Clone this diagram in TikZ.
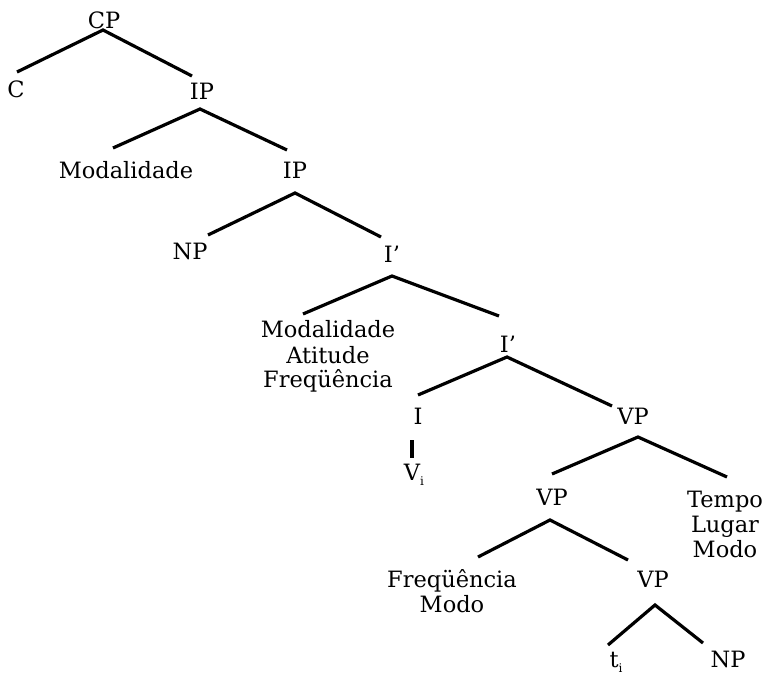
\documentclass[tikz,border=0pt]{standalone}
\usepackage{fontspec}
\setmainfont{DejaVu Serif}
\begin{document}
\begin{tikzpicture}[x=1pt,y=-1pt,
  lbl/.style={anchor=base,inner sep=0pt,font=\fontsize{22.5}{27}\selectfont},
  edge/.style={line width=3.2pt,line cap=butt}]
\useasboundingbox[fill=white] (0,0) rectangle (766,676);
\newcommand{\lsub}[1]{\raisebox{-5pt}{\fontsize{12}{12}\selectfont #1}}
% labels
\node[lbl] (cp) at (104,29) {CP};
\node[lbl] (c) at (16,98) {C};
\node[lbl] (ip1) at (202,100) {IP};
\node[lbl] (mod1) at (126,179) {Modalidade};
\node[lbl] (ip2) at (295,179) {IP};
\node[lbl] (np1) at (190,260) {NP};
\node[lbl] (ib1) at (392,263) {I'};
\node[lbl] (mod2a) at (328,338) {Modalidade};
\node[lbl] (mod2b) at (328,363) {Atitude};
\node[lbl] (mod2c) at (328,388) {Freqüência};
\node[lbl] (ib2) at (508,353) {I'};
\node[lbl] (i) at (418,424) {I};
\node[lbl] (vi) at (414,480) {V\lsub{i}};
\node[lbl] (vp1) at (633,424) {VP};
\node[lbl] (vp2) at (552,505) {VP};
\node[lbl] (tlm1) at (725,507) {Tempo};
\node[lbl] (tlm2) at (725,532) {Lugar};
\node[lbl] (tlm3) at (725,557) {Modo};
\node[lbl] (fm1) at (452,587) {Freqüência};
\node[lbl] (fm2) at (452,612) {Modo};
\node[lbl] (vp3) at (653,587) {VP};
\node[lbl] (ti) at (616,667) {t\lsub{i}};
\node[lbl] (np2) at (728,667) {NP};
% branch points
\coordinate (cp-a) at (103,30);  \coordinate (c-t) at (17,72);   \coordinate (ip1-t) at (192,76);
\coordinate (ip1-a) at (200,109); \coordinate (mod1-t) at (113,148); \coordinate (ip2-t) at (287,150);
\coordinate (ip2-a) at (295,193); \coordinate (np1-t) at (208,235); \coordinate (ib1-t) at (381,237);
\coordinate (ib1-a) at (392,276); \coordinate (mod2-t) at (303,314); \coordinate (ib2-t) at (499,316);
\coordinate (ib2-a) at (507,357); \coordinate (i-t) at (418,395); \coordinate (vp1-t) at (612,406);
\coordinate (i-b) at (412,440); \coordinate (vi-t) at (412,458);
\coordinate (vp1-a) at (638,437); \coordinate (vp2-t) at (552,474); \coordinate (tlm-t) at (727,477);
\coordinate (vp2-a) at (550,520); \coordinate (fm-t) at (478,557); \coordinate (vp3-t) at (628,560);
\coordinate (vp3-a) at (655,605); \coordinate (ti-t) at (608,645); \coordinate (np2-t) at (703,643);
% edges
\draw[edge] (c-t) -- (cp-a) -- (ip1-t);
\draw[edge] (mod1-t) -- (ip1-a) -- (ip2-t);
\draw[edge] (np1-t) -- (ip2-a) -- (ib1-t);
\draw[edge] (mod2-t) -- (ib1-a) -- (ib2-t);
\draw[edge] (i-t) -- (ib2-a) -- (vp1-t);
\draw[edge] (i-b) -- (vi-t);
\draw[edge] (vp2-t) -- (vp1-a) -- (tlm-t);
\draw[edge] (fm-t) -- (vp2-a) -- (vp3-t);
\draw[edge] (ti-t) -- (vp3-a) -- (np2-t);
\end{tikzpicture}
\end{document}
